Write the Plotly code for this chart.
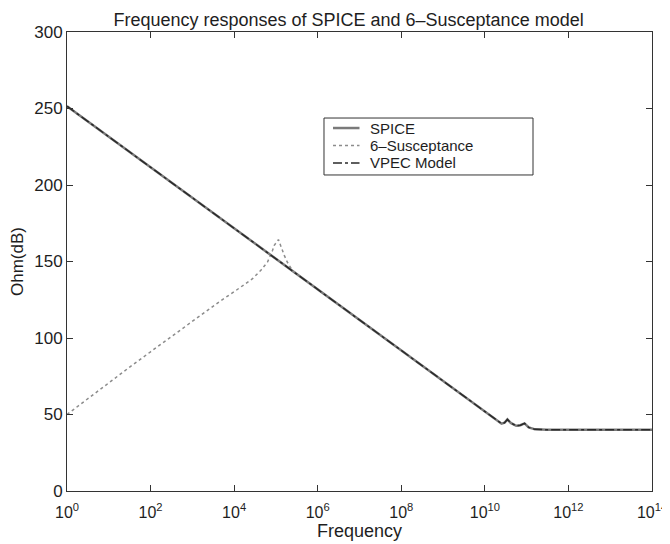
import plotly.graph_objects as go

# log10(frequency) and magnitude (dB)
spice_logf = [0, 10.2, 10.4, 10.47, 10.54, 10.62, 10.75, 10.85, 10.95, 11.05, 11.2, 11.5, 14]
spice_db = [251.5, 47.5, 44.0, 44.6, 46.8, 44.5, 42.6, 43.0, 44.2, 41.6, 40.3, 40.0, 40.0]

vpec_logf = [0, 10.2, 10.4, 10.47, 10.54, 10.62, 10.75, 10.85, 10.95, 11.05, 11.2, 11.5, 14]
vpec_db = [251.5, 47.5, 44.0, 44.6, 46.8, 44.5, 42.6, 43.0, 44.2, 41.6, 40.3, 40.0, 40.0]

sus_logf = [0, 0.5, 1, 1.5, 2, 2.5, 3, 3.5, 3.64, 4.04, 4.44, 4.64, 4.8, 4.92, 4.96, 5.06,
            5.12, 5.2, 5.27, 5.39, 5.51]
sus_db = [50, 60.5, 71, 81, 91, 101, 110.5, 120.5, 123.6, 131, 138.8, 144.3, 149.7, 157.3,
          160.6, 164.3, 159.5, 154, 149.7, 144.3, 141.6]

series_names = ["SPICE", "6\u2013Susceptance", "VPEC Model"]

x_tick_exp = [0, 2, 4, 6, 8, 10, 12, 14]
x_tick_text = ["10<sup>%d</sup>" % e for e in x_tick_exp]
y_ticks = [0, 50, 100, 150, 200, 250, 300]

styles = [
    dict(color="#7a7a7a", width=2.5, dash="solid"),
    dict(color="#8c8c8c", width=1.5, dash="dot"),
    dict(color="#2a2a2a", width=1.5, dash="dashdot"),
]

spice_f = [10 ** v for v in spice_logf]
vpec_f = [10 ** v for v in vpec_logf]
sus_f = [10 ** v for v in sus_logf]

fig = go.Figure()
for xs, ys, name, st in zip([spice_f, sus_f, vpec_f], [spice_db, sus_db, vpec_db],
                            series_names, styles):
    fig.add_trace(go.Scatter(x=xs, y=ys, mode="lines", name=name, line=st,
                             showlegend=False))

font = "Liberation Sans, Arial, Helvetica, sans-serif"

# Compact MATLAB-style legend box (paper coordinates of the plot area)
leg_x0, leg_x1, leg_y0, leg_y1 = 0.4393, 0.7966, 0.6885, 0.8126
row_y = [0.7908, 0.7527, 0.7146]
shapes = [dict(type="rect", xref="paper", yref="paper", x0=leg_x0, x1=leg_x1,
               y0=leg_y0, y1=leg_y1, line=dict(color="#333", width=1),
               fillcolor="white", layer="above")]
annotations = []
for ry, name, st in zip(row_y, series_names, styles):
    shapes.append(dict(type="line", xref="paper", yref="paper", x0=0.4547, x1=0.5,
                       y0=ry, y1=ry, line=st, layer="above"))
    annotations.append(dict(text=name, xref="paper", yref="paper", x=0.5162, y=ry,
                            xanchor="left", yanchor="middle", showarrow=False,
                            borderpad=0, font=dict(size=15, color="#1e1e1e")))

fig.update_layout(
    width=662, height=536,
    margin=dict(l=59, r=18, t=24, b=53, autoexpand=False),
    paper_bgcolor="white", plot_bgcolor="white",
    font=dict(family=font, size=17, color="#1e1e1e"),
    title=dict(text="Frequency responses of SPICE and 6\u2013Susceptance model",
               x=0.5144, xanchor="center", y=0.9776, yanchor="middle",
               font=dict(size=18, color="#1e1e1e")),
    showlegend=False,
    shapes=shapes,
    annotations=annotations,
)
fig.update_xaxes(type="log", range=[0, 14], tickvals=[10 ** e for e in x_tick_exp],
                 ticktext=x_tick_text, ticks="inside", ticklen=6, tickcolor="#333",
                 showline=True, linecolor="#333", linewidth=1, mirror="ticks",
                 showgrid=False, zeroline=False, ticklabelstandoff=7,
                 ticklabeloverflow="allow", automargin=False,
                 tickfont=dict(size=16),
                 title=dict(text="Frequency", font=dict(size=18), standoff=4))
fig.update_yaxes(range=[0, 300], tickvals=y_ticks, ticks="inside", ticklen=6,
                 tickcolor="#333", showline=True, linecolor="#333", linewidth=1,
                 mirror="ticks", showgrid=False, zeroline=False, automargin=False,
                 title=dict(text="Ohm(dB)", font=dict(size=17), standoff=9))

fig.write_html("out.html")
